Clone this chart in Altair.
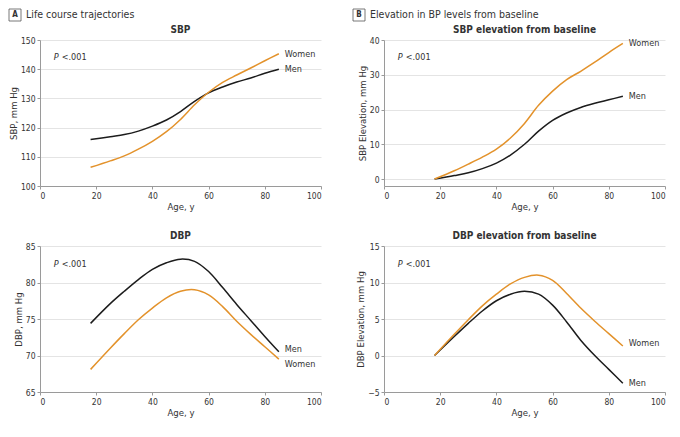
import altair as alt
import pandas as pd

# ---------------- data ----------------
age = [18, 25, 30, 35, 40, 45, 50, 55, 60, 65, 70, 75, 80, 85]

sbp_men = [115.9, 116.9, 117.6, 118.8, 120.5, 122.6, 125.5, 129.0, 131.9, 133.9, 135.6, 137.0, 138.6, 140.0]
sbp_women = [106.4, 108.6, 110.3, 112.6, 115.3, 118.6, 122.8, 127.8, 132.1, 135.5, 138.0, 140.4, 142.9, 145.3]

sbp_elev_men = [0.0, 1.0, 1.8, 3.0, 4.6, 6.9, 10.0, 13.8, 16.9, 19.0, 20.6, 21.8, 22.8, 23.8]
sbp_elev_women = [0.0, 2.4, 4.3, 6.3, 8.6, 11.8, 16.0, 21.2, 25.3, 28.6, 31.0, 33.6, 36.4, 39.0]

dbp_men = [74.4, 77.1, 78.8, 80.4, 81.8, 82.7, 83.2, 82.9, 81.5, 79.3, 77.0, 74.8, 72.6, 70.5]
dbp_women = [68.1, 71.0, 73.0, 74.9, 76.5, 77.9, 78.8, 79.0, 78.3, 76.7, 74.7, 72.9, 71.2, 69.5]

dbp_elev_men = [0.0, 2.6, 4.4, 6.1, 7.5, 8.4, 8.8, 8.4, 6.9, 4.6, 2.1, 0.0, -1.9, -3.8]
dbp_elev_women = [0.0, 2.9, 4.9, 6.8, 8.4, 9.8, 10.7, 11.0, 10.3, 8.5, 6.5, 4.7, 3.0, 1.3]

sexes = ["Men", "Women"]
x_ticks = [0, 20, 40, 60, 80, 100]
p_label = "<.001"

# ---------------- style ----------------
FONT = "'DejaVu Sans Condensed', 'Liberation Sans Narrow', 'Open Sans', sans-serif"
BLACK = "#1c1c1c"
ORANGE = "#E3922B"
TEXT = "#333333"
W, H = 281, 146


def panel(men, women, title, ytitle, domain, yticks, p_y, dy_men=0, dy_women=0,
          header_letter=None, header_text=None, hx=-30):
    n = len(age)
    df = pd.DataFrame({
        "age": age * 2,
        "value": men + women,
        "sex": [sexes[0]] * n + [sexes[1]] * n,
    })
    x_enc = alt.X("age:Q", scale=alt.Scale(domain=[0, 100], nice=False, padding=0),
                  axis=alt.Axis(values=x_ticks, title="Age, y", grid=False))
    y_enc = alt.Y("value:Q", scale=alt.Scale(domain=domain, nice=False, zero=False, padding=0),
                  axis=alt.Axis(values=yticks, title=ytitle, grid=True))

    lines = alt.Chart(df).mark_line(interpolate="catmull-rom", strokeWidth=1.5).encode(
        x=x_enc, y=y_enc,
        color=alt.Color("sex:N", scale=alt.Scale(domain=sexes, range=[BLACK, ORANGE]),
                        legend=None),
        detail="sex:N",
    )

    lab_men = alt.Chart(pd.DataFrame({"age": [age[-1]], "value": [men[-1]], "sex": [sexes[0]]})
                        ).mark_text(align="left", dx=6, dy=dy_men, fontSize=9, color=TEXT,
                                    font=FONT).encode(x=x_enc, y=y_enc, text="sex:N")
    lab_women = alt.Chart(pd.DataFrame({"age": [age[-1]], "value": [women[-1]], "sex": [sexes[1]]})
                          ).mark_text(align="left", dx=6, dy=dy_women, fontSize=9, color=TEXT,
                                      font=FONT).encode(x=x_enc, y=y_enc, text="sex:N")

    pdf = pd.DataFrame({"age": [4.9], "value": [p_y], "t1": ["P"], "t2": [p_label]})
    p1 = alt.Chart(pdf).mark_text(align="left", fontSize=9, fontStyle="italic", color=TEXT,
                                  font=FONT).encode(x=x_enc, y=y_enc, text="t1:N")
    p2 = alt.Chart(pdf).mark_text(align="left", dx=8, fontSize=9, color=TEXT,
                                  font=FONT).encode(x=x_enc, y=y_enc, text="t2:N")

    tdf = pd.DataFrame({"t": [title]})
    ttl = alt.Chart(tdf).mark_text(fontSize=10, fontWeight="bold", color=TEXT,
                                   font=FONT).encode(
        x=alt.value(W / 2), y=alt.value(-10), text="t:N")

    layers = [lines, lab_men, lab_women, p1, p2, ttl]

    if header_letter is not None:
        hdf = pd.DataFrame({"l": [header_letter], "t": [header_text]})
        box = alt.Chart(hdf).mark_rect(fill="white", stroke="#555555", strokeWidth=0.8).encode(
            x=alt.value(hx), x2=alt.value(hx + 12), y=alt.value(-31), y2=alt.value(-19))
        letter = alt.Chart(hdf).mark_text(fontSize=8, fontWeight="bold", color=TEXT,
                                          font=FONT).encode(
            x=alt.value(hx + 6), y=alt.value(-25), text="l:N")
        htext = alt.Chart(hdf).mark_text(align="left", fontSize=10.5, color=TEXT,
                                         font=FONT).encode(
            x=alt.value(hx + 17), y=alt.value(-25), text="t:N")
        layers += [box, letter, htext]

    return alt.layer(*layers).properties(width=W, height=H)


a1 = panel(sbp_men, sbp_women, "SBP", "SBP, mm Hg", [100, 150],
           [100, 110, 120, 130, 140, 150], 144.2,
           header_letter="A", header_text="Life course trajectories", hx=-31)
b1 = panel(sbp_elev_men, sbp_elev_women, "SBP elevation from baseline",
           "SBP Elevation, mm Hg", [-2, 40], [0, 10, 20, 30, 40], 35.0,
           header_letter="B", header_text="Elevation in BP levels from baseline", hx=-31)
a2 = panel(dbp_men, dbp_women, "DBP", "DBP, mm Hg", [65, 85],
           [65, 70, 75, 80, 85], 82.5, dy_men=-3, dy_women=5)
b2 = panel(dbp_elev_men, dbp_elev_women, "DBP elevation from baseline",
           "DBP Elevation, mm Hg", [-5, 15], [-5, 0, 5, 10, 15], 12.6, dy_women=-3)

chart = alt.concat(a1, b1, a2, b2, columns=2,
                   spacing={"row": 20, "column": 30}).properties(
    padding={"left": 0, "top": 0, "right": 0, "bottom": 4}
).configure_view(stroke=None).configure_axis(
    labelFont=FONT, titleFont=FONT, labelFontSize=8.5, titleFontSize=9.5,
    titleFontWeight="normal", labelColor=TEXT, titleColor=TEXT,
    domainColor="#9a9a9a", tickColor="#9a9a9a", gridColor="#e4e4e4",
    tickSize=3, labelPadding=2, titlePadding=2,
)

chart.save("out.html", embed_options={"renderer": "svg", "actions": False})
